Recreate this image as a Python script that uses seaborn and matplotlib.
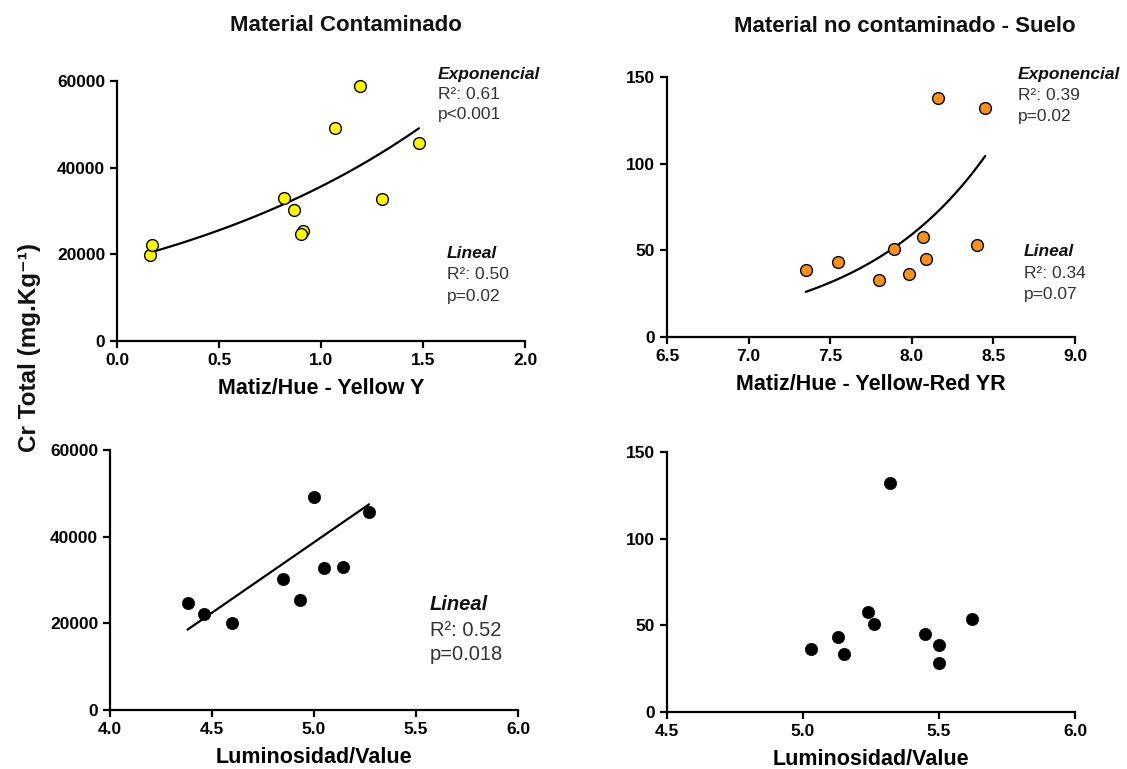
import numpy as np
import pandas as pd
import seaborn as sns
import matplotlib
matplotlib.use('Agg')
import matplotlib.pyplot as plt

# --- data ---
# Material contaminado: hue (Yellow Y) vs Cr total
hue_cont = [0.16, 0.17, 0.82, 0.87, 0.91, 0.90, 1.07, 1.19, 1.30, 1.48]
cr_cont = [19900, 22100, 33100, 30300, 25400, 24600, 49200, 58800, 32800, 45700]

# Material no contaminado - suelo: hue (Yellow-Red YR) vs Cr total
hue_soil = [7.35, 7.55, 7.80, 7.89, 7.98, 8.07, 8.09, 8.16, 8.40, 8.45]
cr_soil = [38.5, 43.1, 33.1, 51.0, 36.5, 57.7, 45.0, 137.9, 53.3, 131.9]

# Luminosidad/Value
val_cont = [4.38, 4.46, 4.60, 4.85, 4.93, 5.00, 5.05, 5.14, 5.27]
cr_cont_val = [24800, 22200, 20000, 30300, 25400, 49200, 32800, 33100, 45800]

val_soil = [5.03, 5.13, 5.15, 5.24, 5.26, 5.32, 5.45, 5.50, 5.50, 5.62]
cr_soil_val = [36.6, 43.2, 33.2, 57.9, 51.0, 132.0, 45.1, 38.7, 28.0, 53.5]

# fitted curves (parameters)
exp_cont_a, exp_cont_k = 18320, 0.666
exp_soil_a, exp_soil_k = 0.002421, 1.263
lin_val_slope, lin_val_icpt = 32500, -123800

sns.set_theme(style="ticks")
plt.rcParams['font.family'] = ['Liberation Sans', 'DejaVu Sans']
plt.rcParams['text.color'] = 'black'
plt.rcParams['axes.labelcolor'] = 'black'

W, H = 1127, 769
fig = plt.figure(figsize=(W / 100, H / 100), dpi=100)


def px(x, y):
    return x / W, 1 - y / H


def make_ax(left, top, right, bottom):
    ax = fig.add_axes([left / W, 1 - bottom / H, (right - left) / W, (bottom - top) / H])
    sns.despine(ax=ax)
    for s in ['left', 'bottom']:
        ax.spines[s].set_linewidth(1.6)
        ax.spines[s].set_color('black')
    ax.tick_params(width=1.6, length=5, labelsize=12.5, pad=3.5, colors='black')
    return ax


def finish(ax, xticks, yticks, xfmt, xlabel):
    ax.set_xlim(xticks[0], xticks[-1])
    ax.set_ylim(yticks[0], yticks[-1])
    ax.set_xticks(xticks)
    ax.set_yticks(yticks)
    ax.set_xticklabels([xfmt.format(v) for v in xticks])
    ax.set_yticklabels([str(v) for v in yticks])
    for lab in ax.get_xticklabels() + ax.get_yticklabels():
        lab.set_fontweight('bold')
    ax.set_xlabel(xlabel, fontsize=15.5, fontweight='bold', labelpad=7)
    ax.set_ylabel('')


# 1. contaminated, hue
ax1 = make_ax(117, 81, 525, 341)
xs = np.linspace(min(hue_cont), max(hue_cont), 100)
sns.lineplot(x=xs, y=exp_cont_a * np.exp(exp_cont_k * xs), ax=ax1, color='black', lw=1.6, zorder=2)
sns.scatterplot(x=hue_cont, y=cr_cont, ax=ax1, s=72, color='#FFF700', edgecolor='black',
                linewidth=1.0, zorder=3, clip_on=False)
finish(ax1, [0.0, 0.5, 1.0, 1.5, 2.0], [0, 20000, 40000, 60000], '{:.1f}', 'Matiz/Hue - Yellow Y')

# 2. soil, hue
ax2 = make_ax(667, 77, 1075, 337)
xs = np.linspace(min(hue_soil), max(hue_soil), 100)
sns.lineplot(x=xs, y=exp_soil_a * np.exp(exp_soil_k * xs), ax=ax2, color='black', lw=1.6, zorder=2)
sns.scatterplot(x=hue_soil, y=cr_soil, ax=ax2, s=72, color='#F7901E', edgecolor='black',
                linewidth=1.0, zorder=3, clip_on=False)
finish(ax2, [6.5, 7.0, 7.5, 8.0, 8.5, 9.0], [0, 50, 100, 150], '{:.1f}', 'Matiz/Hue - Yellow-Red YR')

# 3. contaminated, value
ax3 = make_ax(110, 450, 518, 710)
xs = np.linspace(min(val_cont), max(val_cont), 50)
sns.lineplot(x=xs, y=lin_val_icpt + lin_val_slope * xs, ax=ax3, color='black', lw=1.6, zorder=2)
sns.scatterplot(x=val_cont, y=cr_cont_val, ax=ax3, s=78, color='black', edgecolor='black',
                linewidth=0.5, zorder=3, clip_on=False)
finish(ax3, [4.0, 4.5, 5.0, 5.5, 6.0], [0, 20000, 40000, 60000], '{:.1f}', 'Luminosidad/Value')

# 4. soil, value
ax4 = make_ax(667, 452, 1075, 712)
sns.scatterplot(x=val_soil, y=cr_soil_val, ax=ax4, s=78, color='black', edgecolor='black',
                linewidth=0.5, zorder=3, clip_on=False)
finish(ax4, [4.5, 5.0, 5.5, 6.0], [0, 50, 100, 150], '{:.1f}', 'Luminosidad/Value')

# titles and shared y label
fig.text(*px(346, 31), 'Material Contaminado', ha='center', va='baseline',
         fontsize=16, fontweight='bold', color='#111111')
fig.text(*px(905, 32), 'Material no contaminado - Suelo', ha='center', va='baseline',
         fontsize=16, fontweight='bold', color='#111111')
fig.text(*px(30, 347), 'Cr Total (mg.Kg\u207b\u00b9)', ha='center', va='center', rotation=90,
         fontsize=17.5, fontweight='bold', color='#111111')


def stats(x, ys, head, r2, p, size, gap):
    fig.text(*px(x, ys), head, ha='left', va='center', fontsize=size,
             fontweight='bold', fontstyle='italic', color='#111111')
    fig.text(*px(x, ys + gap), 'R\u00b2: ' + r2, ha='left', va='center', fontsize=size, color='#333333')
    fig.text(*px(x, ys + 2 * gap), p, ha='left', va='center', fontsize=size, color='#333333')


stats(438, 74, 'Exponencial', '0.61', 'p<0.001', 12.5, 20.5)
stats(447, 253, 'Lineal', '0.50', 'p=0.02', 12.5, 21.5)
stats(1018, 75, 'Exponencial', '0.39', 'p=0.02', 12.5, 21)
stats(1024, 252, 'Lineal', '0.34', 'p=0.07', 12.5, 21.5)
stats(430, 605, 'Lineal', '0.52', 'p=0.018', 14.5, 25)

fig.savefig('out.png', dpi=100)
plt.close(fig)
